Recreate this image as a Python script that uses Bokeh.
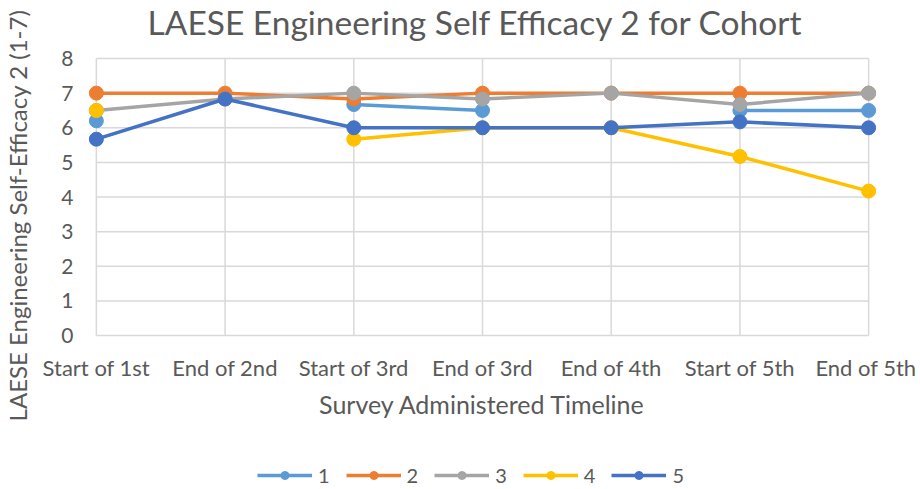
from bokeh.plotting import figure
from bokeh.layouts import column
from bokeh.models import Range1d, FixedTicker, Legend, LegendItem, ColumnDataSource
from bokeh.embed import file_html
from bokeh.resources import INLINE
import numpy as np

categories = ["Start of 1st", "End of 2nd", "Start of 3rd", "End of 3rd",
              "End of 4th", "Start of 5th", "End of 5th"]
y_ticks = [0, 1, 2, 3, 4, 5, 6, 7, 8]

series_names = ["1", "2", "3", "4", "5"]
s1 = [6.2, None, 6.67, 6.5, None, 6.5, 6.5]
s2 = [7.0, 7.0, 6.83, 7.0, 7.0, 7.0, 7.0]
s3 = [6.5, 6.83, 7.0, 6.83, 7.0, 6.67, 7.0]
s4 = [6.5, None, 5.67, 6.0, 6.0, 5.17, 4.17]
s5 = [5.67, 6.83, 6.0, 6.0, 6.0, 6.17, 6.0]
colors = ["#5B9BD5", "#ED7D31", "#A5A5A5", "#FFC000", "#4472C4"]

TXT = "#595959"
FONT = "Lato"
W = 916

# layout (pixels): plot area spans y 0..8 over 277 px; frame padded above/below
PX_PER_UNIT = 277 / 8
PAD_TOP, PAD_BOTTOM = 15, 52
FRAME_TOP, FRAME_BOTTOM = 43, 387
MAIN_H = 455

xs = list(range(len(categories)))
xr = Range1d(-0.1, len(categories) - 1 + 0.1)
yr = Range1d(y_ticks[0] - PAD_BOTTOM / PX_PER_UNIT, y_ticks[-1] + PAD_TOP / PX_PER_UNIT)

p = figure(x_range=xr, y_range=yr,
           width=W, height=MAIN_H,
           min_border_left=83, min_border_right=W - 83 - 798,
           min_border_top=FRAME_TOP, min_border_bottom=MAIN_H - FRAME_BOTTOM,
           output_backend="svg", toolbar_location=None)

p.outline_line_color = None
p.xgrid.visible = False
p.ygrid.visible = False

# gridlines limited to the category span
xmin, xmax = xs[0], xs[-1]
p.segment(x0=[xmin] * len(y_ticks), x1=[xmax] * len(y_ticks), y0=y_ticks, y1=y_ticks,
          line_color="#D9D9D9", line_width=1.5)
p.segment(x0=xs, x1=xs, y0=[y_ticks[0]] * len(xs), y1=[y_ticks[-1]] * len(xs),
          line_color="#D9D9D9", line_width=1.5)

# legend figure below the chart (its ranges keep the data out of view)
q = figure(x_range=Range1d(-3, -2), y_range=Range1d(-3, -2), width=W, height=33,
           min_border_left=0, min_border_right=0, min_border_top=0, min_border_bottom=0,
           output_backend="svg", toolbar_location=None)
q.axis.visible = False
q.grid.visible = False
q.outline_line_color = None

items = []
for name, vals, c in zip(series_names, [s1, s2, s3, s4, s5], colors):
    y = [np.nan if v is None else v for v in vals]
    src = ColumnDataSource(dict(x=xs, y=y))
    p.line("x", "y", source=src, line_color=c, line_width=3.5)
    p.scatter("x", "y", source=src, size=14, fill_color=c, line_color=c)
    lr = q.line("x", "y", source=src, line_color=c, line_width=3.5)
    sr = q.scatter("x", "y", source=src, size=14, fill_color=c, line_color=c)
    items.append(LegendItem(label=name, renderers=[lr, sr]))

legend = Legend(items=items, orientation="horizontal", location=(174, 1),
                glyph_width=55, glyph_height=20, label_height=20, label_width=10,
                label_standoff=6, spacing=16, padding=0, margin=0,
                label_text_font=FONT, label_text_font_size="20px",
                label_text_color=TXT, border_line_color=None,
                background_fill_alpha=0)
q.add_layout(legend, "center")

# axes
p.xaxis.ticker = FixedTicker(ticks=xs)
p.xaxis.major_label_overrides = {i: c for i, c in enumerate(categories)}
p.yaxis.ticker = FixedTicker(ticks=y_ticks)
for ax in (p.xaxis, p.yaxis):
    ax.axis_line_color = None
    ax.major_tick_line_color = None
    ax.minor_tick_line_color = None
    ax.major_tick_out = 0
    ax.major_tick_in = 0
    ax.major_label_text_color = TXT
    ax.major_label_text_font = FONT
    ax.axis_label_text_color = TXT
    ax.axis_label_text_font = FONT
    ax.axis_label_text_font_style = "normal"

p.xaxis.axis_label_text_font_size = "25px"
p.yaxis.axis_label_text_font_size = "24px"
p.xaxis.major_label_text_font_size = "22px"
p.yaxis.major_label_text_font_size = "21px"
p.xaxis.axis_label = "Survey Administered Timeline"
p.yaxis.axis_label = "LAESE Engineering Self-Efficacy 2 (1-7)"
p.xaxis.major_label_standoff = -PAD_BOTTOM + 18
p.xaxis.axis_label_standoff = 5
p.yaxis.major_label_standoff = 10
p.yaxis.axis_label_standoff = 26

p.title.text = "LAESE Engineering Self Efficacy 2 for Cohort"
p.title.align = "left"
p.title.offset = 64
p.title.vertical_align = "top"
p.title.text_font = FONT
p.title.text_font_size = "33.5px"
p.title.text_font_style = "normal"
p.title.text_color = TXT
p.title.standoff = 0

layout = column(p, q, spacing=0)
open("out.html", "w").write(file_html(layout, INLINE))
